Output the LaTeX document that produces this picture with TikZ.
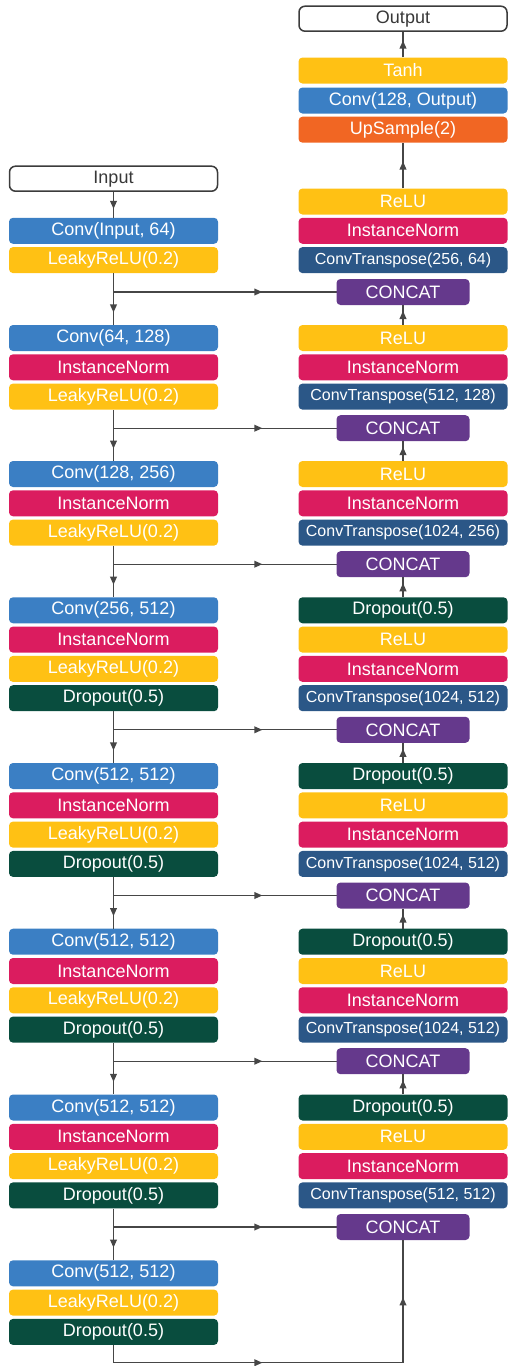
\documentclass[tikz,border=0pt]{standalone}
\usepackage{fontspec}
\setmainfont{Liberation Sans}
\usetikzlibrary{decorations.markings,backgrounds}

\definecolor{azulconv}{HTML}{3B7FC4}
\definecolor{rosanorm}{HTML}{DB1C5F}
\definecolor{amarillo}{HTML}{FFC114}
\definecolor{naranja}{HTML}{F16623}
\definecolor{azulconvt}{HTML}{2B5787}
\definecolor{morado}{HTML}{65398C}
\definecolor{verdedrop}{HTML}{094D3E}
\definecolor{gris}{HTML}{464646}

\begin{document}
\begin{tikzpicture}[
    x=1pt, y=-1pt,
    caja/.style={rectangle, rounded corners=4pt, minimum width=209pt, minimum height=26pt,
        inner sep=0pt, text=white, font=\fontsize{18}{20}\selectfont},
    bconv/.style={caja, fill=azulconv},
    bnorm/.style={caja, fill=rosanorm},
    bact/.style={caja, fill=amarillo},
    bdrop/.style={caja, fill=verdedrop},
    bup/.style={caja, fill=naranja},
    bconvt/.style={caja, fill=azulconvt, font=\fontsize{16}{18}\selectfont},
    bconcat/.style={caja, fill=morado, minimum width=133pt},
    bio/.style={caja, fill=white, draw=gris!85!black, line width=1.5pt, rounded corners=6pt,
        text=gris!80!black, minimum width=208pt, minimum height=25pt},
    linea/.style={draw=gris, line width=1.2pt},
    medio/.style={linea, postaction={decorate}, decoration={markings,
        mark=at position 0.5 with {\fill[gris] (4pt,0) -- (-4pt,3.6pt) -- (-4pt,-3.6pt) -- cycle;}}}
]
    \useasboundingbox (0,0) rectangle (507,1366);

    % Codificador (columna izquierda)
    \node[bio] (inp) at (113.5,178.7) {Input};
    \node[bconv] (e1a) at (113.5,230.8) {Conv(Input, 64)};
    \node[bact] (e1b) at (113.5,260.1) {LeakyReLU(0.2)};

    \node[bconv] (e2a) at (113.5,338) {Conv(64, 128)};
    \node[bnorm] (e2b) at (113.5,367.3) {InstanceNorm};
    \node[bact] (e2c) at (113.5,396.6) {LeakyReLU(0.2)};

    \node[bconv] (e3a) at (113.5,474) {Conv(128, 256)};
    \node[bnorm] (e3b) at (113.5,503.3) {InstanceNorm};
    \node[bact] (e3c) at (113.5,532.6) {LeakyReLU(0.2)};

    \node[bconv] (e4a) at (113.5,610.3) {Conv(256, 512)};
    \node[bnorm] (e4b) at (113.5,639.6) {InstanceNorm};
    \node[bact] (e4c) at (113.5,668.9) {LeakyReLU(0.2)};
    \node[bdrop] (e4d) at (113.5,698.2) {Dropout(0.5)};

    \node[bconv] (e5a) at (113.5,776) {Conv(512, 512)};
    \node[bnorm] (e5b) at (113.5,805.3) {InstanceNorm};
    \node[bact] (e5c) at (113.5,834.6) {LeakyReLU(0.2)};
    \node[bdrop] (e5d) at (113.5,863.9) {Dropout(0.5)};

    \node[bconv] (e6a) at (113.5,941.7) {Conv(512, 512)};
    \node[bnorm] (e6b) at (113.5,971) {InstanceNorm};
    \node[bact] (e6c) at (113.5,1000.3) {LeakyReLU(0.2)};
    \node[bdrop] (e6d) at (113.5,1029.6) {Dropout(0.5)};

    \node[bconv] (e7a) at (113.5,1107.5) {Conv(512, 512)};
    \node[bnorm] (e7b) at (113.5,1136.8) {InstanceNorm};
    \node[bact] (e7c) at (113.5,1166.1) {LeakyReLU(0.2)};
    \node[bdrop] (e7d) at (113.5,1195.4) {Dropout(0.5)};

    \node[bconv] (e8a) at (113.5,1273.3) {Conv(512, 512)};
    \node[bact] (e8b) at (113.5,1302.6) {LeakyReLU(0.2)};
    \node[bdrop] (e8c) at (113.5,1331.9) {Dropout(0.5)};

    % Decodificador (columna derecha)
    \node[bio] (out) at (403,18.7) {Output};
    \node[bact] (tanh) at (403,70.5) {Tanh};
    \node[bconv] (cout) at (403,100.5) {Conv(128, Output)};
    \node[bup] (up) at (403,129.7) {UpSample(2)};

    \node[bact] (d1a) at (403,201.5) {ReLU};
    \node[bnorm] (d1b) at (403,230.8) {InstanceNorm};
    \node[bconvt] (d1c) at (403,260.1) {ConvTranspose(256, 64)};
    \node[bconcat] (c1) at (403,292) {CONCAT};

    \node[bact] (d2a) at (403,338) {ReLU};
    \node[bnorm] (d2b) at (403,367.3) {InstanceNorm};
    \node[bconvt] (d2c) at (403,396.6) {ConvTranspose(512, 128)};
    \node[bconcat] (c2) at (403,428.2) {CONCAT};

    \node[bact] (d3a) at (403,474) {ReLU};
    \node[bnorm] (d3b) at (403,503.3) {InstanceNorm};
    \node[bconvt] (d3c) at (403,532.6) {ConvTranspose(1024, 256)};
    \node[bconcat] (c3) at (403,564.2) {CONCAT};

    \node[bdrop] (d4a) at (403,610.3) {Dropout(0.5)};
    \node[bact] (d4b) at (403,639.6) {ReLU};
    \node[bnorm] (d4c) at (403,668.9) {InstanceNorm};
    \node[bconvt] (d4d) at (403,698.2) {ConvTranspose(1024, 512)};
    \node[bconcat] (c4) at (403,729.8) {CONCAT};

    \node[bdrop] (d5a) at (403,776) {Dropout(0.5)};
    \node[bact] (d5b) at (403,805.3) {ReLU};
    \node[bnorm] (d5c) at (403,834.6) {InstanceNorm};
    \node[bconvt] (d5d) at (403,863.9) {ConvTranspose(1024, 512)};
    \node[bconcat] (c5) at (403,895.5) {CONCAT};

    \node[bdrop] (d6a) at (403,941.7) {Dropout(0.5)};
    \node[bact] (d6b) at (403,971) {ReLU};
    \node[bnorm] (d6c) at (403,1000.3) {InstanceNorm};
    \node[bconvt] (d6d) at (403,1029.6) {ConvTranspose(1024, 512)};
    \node[bconcat] (c6) at (403,1061.2) {CONCAT};

    \node[bdrop] (d7a) at (403,1107.5) {Dropout(0.5)};
    \node[bact] (d7b) at (403,1136.8) {ReLU};
    \node[bnorm] (d7c) at (403,1166.1) {InstanceNorm};
    \node[bconvt] (d7d) at (403,1195.4) {ConvTranspose(512, 512)};
    \node[bconcat] (c7) at (403,1227) {CONCAT};

    % Puntos de bifurcacion de las conexiones de salto
    \coordinate (s1) at (e1b.south |- c1.center);
    \coordinate (s2) at (e2c.south |- c2.center);
    \coordinate (s3) at (e3c.south |- c3.center);
    \coordinate (s4) at (e4d.south |- c4.center);
    \coordinate (s5) at (e5d.south |- c5.center);
    \coordinate (s6) at (e6d.south |- c6.center);
    \coordinate (s7) at (e7d.south |- c7.center);
    \coordinate (b1) at (113.5,1362.7);
    \coordinate (b2) at (c7.center |- b1);

    % Flujo del codificador
    \draw[medio] (inp.south) -- (e1a.north);
    \draw[linea] (e1b.south) -- (s1);
    \draw[medio] (s1) -- (e2a.north);
    \draw[linea] (e2c.south) -- (s2);
    \draw[medio] (s2) -- (e3a.north);
    \draw[linea] (e3c.south) -- (s3);
    \draw[medio] (s3) -- (e4a.north);
    \draw[linea] (e4d.south) -- (s4);
    \draw[medio] (s4) -- (e5a.north);
    \draw[linea] (e5d.south) -- (s5);
    \draw[medio] (s5) -- (e6a.north);
    \draw[linea] (e6d.south) -- (s6);
    \draw[medio] (s6) -- (e7a.north);
    \draw[linea] (e7d.south) -- (s7);
    \draw[medio] (s7) -- (e8a.north);

    % Conexiones de salto hacia los CONCAT
    \begin{pgfonlayer}{background}
        \draw[medio] (s1) -- (c1.center);
        \draw[medio] (s2) -- (c2.center);
        \draw[medio] (s3) -- (c3.center);
        \draw[medio] (s4) -- (c4.center);
        \draw[medio] (s5) -- (c5.center);
        \draw[medio] (s6) -- (c6.center);
        \draw[medio] (s7) -- (c7.center);
    \end{pgfonlayer}

    % Cuello de botella hacia el decodificador
    \draw[linea] (e8c.south) -- (b1);
    \draw[medio] (b1) -- (b2);
    \draw[medio] (b2) -- (c7.south);

    % Flujo del decodificador
    \draw[medio] (d7a.north) -- (c6.south);
    \draw[medio] (d6a.north) -- (c5.south);
    \draw[medio] (d5a.north) -- (c4.south);
    \draw[medio] (d4a.north) -- (c3.south);
    \draw[medio] (d3a.north) -- (c2.south);
    \draw[medio] (d2a.north) -- (c1.south);
    \draw[medio] (d1a.north) -- (up.south);
    \draw[medio] (tanh.north) -- (out.south);
\end{tikzpicture}
\end{document}
